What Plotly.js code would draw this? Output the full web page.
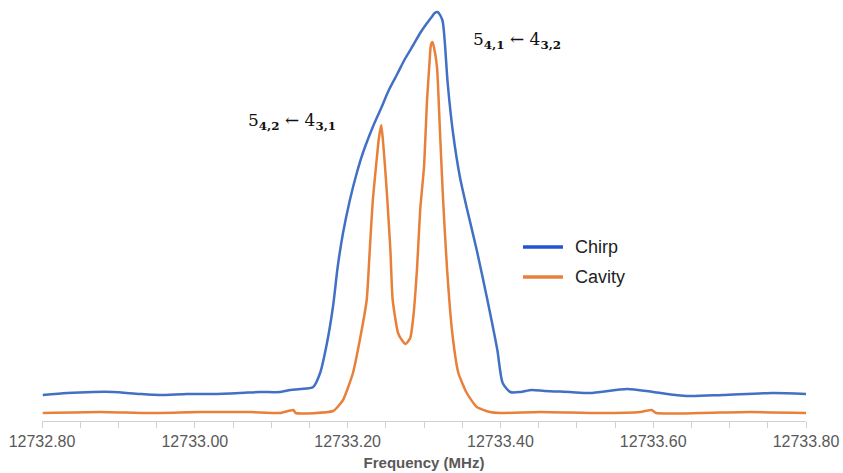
<!DOCTYPE html>
<html>
<head>
<meta charset="utf-8">
<script src="https://cdn.plot.ly/plotly-3.0.1.min.js"></script>
<style>html,body{margin:0;padding:0;background:#fff;}#chart{width:843px;height:473px;}</style>
</head>
<body>
<div id="chart"></div>
<script>
// Frequency (MHz) and intensity (arbitrary units)
const chirpFreq = [12732.801, 12732.833, 12732.867, 12732.893, 12732.928, 12732.954, 12732.990, 12733.024, 12733.059, 12733.085, 12733.112, 12733.125, 12733.138, 12733.155, 12733.164, 12733.173, 12733.181, 12733.187, 12733.194, 12733.203, 12733.212, 12733.220, 12733.233, 12733.244, 12733.254, 12733.265, 12733.275, 12733.286, 12733.295, 12733.304, 12733.311, 12733.314, 12733.318, 12733.324, 12733.327, 12733.331, 12733.338, 12733.347, 12733.356, 12733.369, 12733.383, 12733.396, 12733.403, 12733.413, 12733.426, 12733.441, 12733.458, 12733.491, 12733.517, 12733.566, 12733.600, 12733.644, 12733.691, 12733.757, 12733.800];
const chirpInt  = [26, 28, 29, 29, 27, 26, 27, 27, 28, 29, 29, 31, 32, 34, 48, 78, 115, 154, 188, 221, 248, 268, 294, 313, 331, 347, 362, 376, 388, 398, 405, 408, 409, 401, 381, 338, 288, 244, 213, 171, 121, 71, 38, 29, 29, 31, 30, 29, 28, 32, 29, 25, 26, 28, 27];

const cavityFreq = [12732.801, 12732.876, 12732.941, 12733.007, 12733.072, 12733.112, 12733.129, 12733.132, 12733.181, 12733.194, 12733.207, 12733.216, 12733.225, 12733.229, 12733.233, 12733.238, 12733.241, 12733.244, 12733.246, 12733.249, 12733.252, 12733.256, 12733.259, 12733.266, 12733.271, 12733.276, 12733.282, 12733.286, 12733.291, 12733.295, 12733.300, 12733.304, 12733.307, 12733.309, 12733.311, 12733.313, 12733.317, 12733.321, 12733.325, 12733.330, 12733.337, 12733.345, 12733.356, 12733.369, 12733.386, 12733.400, 12733.452, 12733.530, 12733.583, 12733.598, 12733.604, 12733.661, 12733.727, 12733.800];
const cavityInt  = [8, 9, 8, 9, 9, 8, 11, 8, 10, 21, 48, 81, 121, 171, 221, 261, 283, 296, 283, 254, 221, 171, 121, 88, 81, 77, 83, 104, 154, 211, 254, 321, 356, 376, 379, 374, 354, 288, 221, 154, 88, 48, 28, 14, 9, 8, 9, 8, 9, 11, 8, 8, 9, 8];

const seriesNames = ["Chirp", "Cavity"];
const xTickStart = 12732.8, xTickEnd = 12733.8;

const curveColors = ["#4170c4", "#e8803a"];
const legendColors = ["#1f55d0", "#e8803a"];

const traces = [
  {x: chirpFreq, y: chirpInt, name: seriesNames[0], type: "scatter", mode: "lines",
   line: {color: curveColors[0], width: 2.5, shape: "spline", smoothing: 0.7}},
  {x: cavityFreq, y: cavityInt, name: seriesNames[1], type: "scatter", mode: "lines",
   line: {color: curveColors[1], width: 2.5, shape: "spline", smoothing: 0.5}}
];

const legFont = {family: "Liberation Sans, Arial, sans-serif", size: 18, color: "#222"};
const legendY = [0.4133, 0.342];
const shapes = seriesNames.map((n, i) => ({
  type: "line", xref: "paper", yref: "paper", x0: 0.6296, x1: 0.6819, y0: legendY[i], y1: legendY[i],
  line: {color: legendColors[i], width: 3.5}
}));
const legendAnn = seriesNames.map((n, i) => ({
  x: 0.695, y: legendY[i], xref: "paper", yref: "paper", xanchor: "left", yanchor: "middle",
  showarrow: false, text: n, font: legFont
}));

const layout = {
  width: 843, height: 473,
  margin: {l: 42, r: 37, t: 0, b: 52},
  paper_bgcolor: "#fff", plot_bgcolor: "#fff",
  showlegend: false,
  xaxis: {
    range: [xTickStart, xTickEnd], dtick: 0.2, tick0: xTickStart, tickformat: ".2f",
    showgrid: false, zeroline: false, showline: true, linecolor: "#d0d0d0", linewidth: 1,
    ticks: "outside", ticklen: 6, tickcolor: "#d0d0d0",
    minor: {dtick: 0.05, ticks: "outside", ticklen: 6, tickcolor: "#d0d0d0", showgrid: false},
    tickfont: {family: "Liberation Sans, Arial, sans-serif", size: 16, color: "#595959"},
    title: {text: "<b>Frequency (MHz)</b>", font: {family: "Liberation Sans, Arial, sans-serif", size: 15, color: "#595959"}, standoff: 8}
  },
  yaxis: {range: [0, 421], visible: false, showgrid: false, zeroline: false},
  shapes: shapes,
  annotations: [
    {x: 12733.361, y: 381, xref: "x", yref: "y", xanchor: "left", yanchor: "middle", showarrow: false,
     text: "5<sub><b>4,1</b></sub> ← 4<sub><b>3,2</b></sub>", font: {family: "DejaVu Serif, serif", size: 17, color: "#111"}},
    {x: 12733.067, y: 300, xref: "x", yref: "y", xanchor: "left", yanchor: "middle", showarrow: false,
     text: "5<sub><b>4,2</b></sub> ← 4<sub><b>3,1</b></sub>", font: {family: "DejaVu Serif, serif", size: 17, color: "#111"}}
  ].concat(legendAnn)
};

Plotly.newPlot("chart", traces, layout, {displayModeBar: false, staticPlot: true});
</script>
</body>
</html>
